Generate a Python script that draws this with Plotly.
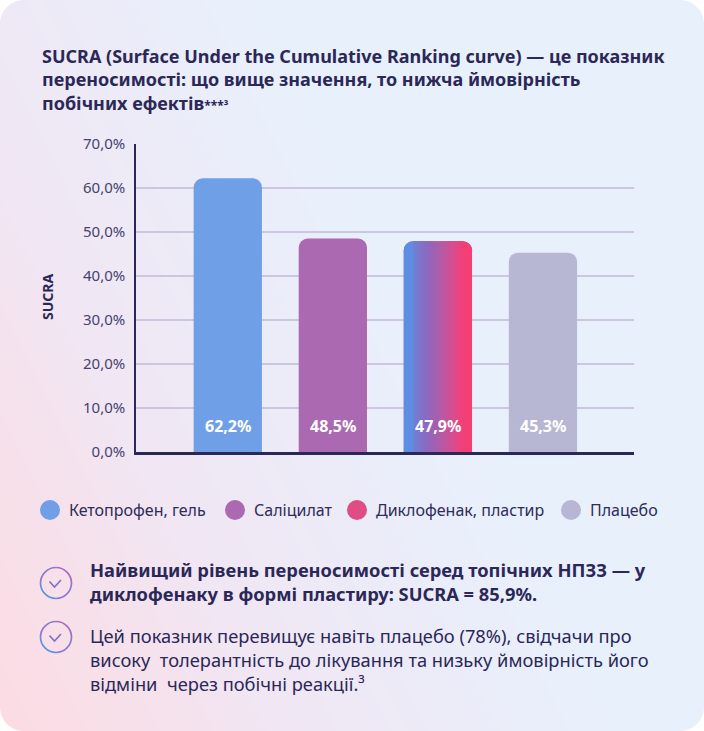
import plotly.graph_objects as go

# --- data ---
categories = ["Кетопрофен, гель", "Саліцилат", "Диклофенак, пластир", "Плацебо"]
values = [62.2, 48.5, 47.9, 45.3]
bar_colors = ["#6f9fe6", "#ab69b1", "#a062b3", "#b8b7d3"]
legend_colors = ["#6f9fe6", "#ab69b1", "#e04c84", "#b8b7d3"]
gradient_bar = 2  # index of the bar with the gradient fill

title_text = ("SUCRA (Surface Under the Cumulative Ranking curve) — це показник<br>"
              "переносимості: що вище значення, то нижча ймовірність<br>"
              "побічних ефектів<span style='font-size:12px'>***³</span>")
point1 = ("<b>Найвищий рівень переносимості серед топічних НПЗЗ — у<br>"
          "диклофенаку в формі пластиру: SUCRA = 85,9%.</b>")
point2 = ("Цей показник перевищує навіть плацебо (78%), свідчачи про<br>"
          "високу  толерантність до лікування та низьку ймовірність його<br>"
          "відміни  через побічні реакції.³")

W, H = 704, 731
FONT = "Noto Sans"
NAVY = "#2b2858"


def px(x):
    return x / W


def py(y):
    return 1 - y / H


def hex2rgb(h):
    h = h.lstrip("#")
    return [int(h[i:i + 2], 16) for i in (0, 2, 4)]


def mix(stops, t):
    t = max(0.0, min(1.0, t))
    for (t0, c0), (t1, c1) in zip(stops, stops[1:]):
        if t <= t1:
            a, b = hex2rgb(c0), hex2rgb(c1)
            f = (t - t0) / (t1 - t0) if t1 > t0 else 0
            return "rgb(%d,%d,%d)" % tuple(round(a[i] + (b[i] - a[i]) * f) for i in range(3))
    return "rgb(%d,%d,%d)" % tuple(hex2rgb(stops[-1][1]))


fig = go.Figure()

# main bars
fig.add_trace(go.Bar(
    x=categories, y=values, width=0.65,
    marker=dict(color=bar_colors, cornerradius=9, line=dict(width=0)),
    showlegend=False, hoverinfo="skip",
))

# gradient fill for the diclofenac bar, built from narrow overlaid bars
bar_stops = [(0, "#5a90e8"), (0.35, "#8e68bd"), (0.65, "#c9539a"), (0.85, "#f1417a"), (1, "#f43f72")]
half = 0.325
gx, gy = [categories[gradient_bar]], [values[gradient_bar]]
fig.add_trace(go.Bar(x=gx, y=gy, width=half, offset=-half,
                     marker=dict(color=mix(bar_stops, 0.03), cornerradius=9, line=dict(width=0)),
                     showlegend=False, hoverinfo="skip"))
fig.add_trace(go.Bar(x=gx, y=gy, width=half, offset=0,
                     marker=dict(color=mix(bar_stops, 0.97), cornerradius=9, line=dict(width=0)),
                     showlegend=False, hoverinfo="skip"))
inner0, inner1 = -half + 0.09, half - 0.09
n = 14
step = (inner1 - inner0) / n
for i in range(n):
    u = ((inner0 + (i + 0.5) * step) + half) / (2 * half)
    fig.add_trace(go.Bar(x=gx, y=gy, width=step * 1.15, offset=inner0 + i * step,
                         marker=dict(color=mix(bar_stops, u), line=dict(width=0)),
                         showlegend=False, hoverinfo="skip"))

shapes = []
# background: diagonal gradient bands, pink bottom-left to light blue
bg_stops = [(0, "#fddbe2"), (0.45, "#f1e6f3"), (1, "#e8f0fc")]
slope = 0.5 * H
cmax = W + slope
nb = 60
bw = cmax / nb
for k in range(nb):
    c0, c1 = k * bw - 1, (k + 1) * bw + 1
    col = mix(bg_stops, (k + 0.5) * bw / 620)
    path = "M %f,%f L %f,%f L %f,%f L %f,%f Z" % (
        px(c0), py(H), px(c1), py(H), px(c1 - slope), py(0), px(c0 - slope), py(0))
    shapes.append(dict(type="path", path=path, xref="paper", yref="paper",
                       fillcolor=col, line=dict(width=0), layer="below"))

# rounded card corners
r, kap = 24, 0.5523


def corner(cx, cy, sx, sy):
    p = [(cx + sx * r, cy), (cx + sx * r * (1 - kap), cy), (cx, cy + sy * r * (1 - kap)), (cx, cy + sy * r)]
    return "M %f,%f L %f,%f C %f,%f %f,%f %f,%f Z" % (
        px(cx), py(cy), px(p[0][0]), py(p[0][1]), px(p[1][0]), py(p[1][1]),
        px(p[2][0]), py(p[2][1]), px(p[3][0]), py(p[3][1]))


for cx, cy, sx, sy in [(0, 0, 1, 1), (W, 0, -1, 1), (0, H, 1, -1), (W, H, -1, -1)]:
    shapes.append(dict(type="path", path=corner(cx, cy, sx, sy), xref="paper", yref="paper",
                       fillcolor="white", line=dict(width=0), layer="below"))

annotations = []
# legend built from circles and labels
legend_x = [50, 235, 357, 571]
legend_y = 510
for name, col, lx in zip(categories, legend_colors, legend_x):
    shapes.append(dict(type="circle", xref="paper", yref="paper",
                       x0=px(lx - 10), x1=px(lx + 10), y0=py(legend_y + 10), y1=py(legend_y - 10),
                       fillcolor=col, line=dict(width=0)))
    annotations.append(dict(text=name, x=px(lx + 17), y=py(legend_y), xref="paper", yref="paper",
                            xanchor="left", yanchor="middle", showarrow=False,
                            font=dict(family=FONT, size=16, color="#2e2c5a")))

# value labels inside the bars
for cat, v in zip(categories, values):
    annotations.append(dict(text="<b>" + ("%.1f%%" % v).replace(".", ",") + "</b>",
                            x=cat, y=0, xref="x", yref="y", yanchor="bottom", yshift=13,
                            showarrow=False, font=dict(family=FONT, size=16, color="white")))

# title
annotations.append(dict(text="<b>" + title_text + "</b>", x=px(40), y=py(42), xref="paper", yref="paper",
                        xanchor="left", yanchor="top", align="left", showarrow=False,
                        font=dict(family=FONT, size=18, color=NAVY)))

# y axis title
annotations.append(dict(text="<b>SUCRA</b>", x=px(48), y=py(297), xref="paper", yref="paper",
                        xanchor="center", yanchor="middle",
                        textangle=-90, showarrow=False, font=dict(family=FONT, size=14, color=NAVY)))


# check icons: ring in four quarter arcs (blue to purple), plus the tick
def quarter(cx, cy, rr, a0, a1):
    # a0/a1 are unit vectors (pixel space, y down) of the arc ends
    (x0, y0), (x1, y1) = a0, a1
    p0 = (cx + rr * x0, cy + rr * y0)
    p3 = (cx + rr * x1, cy + rr * y1)
    p1 = (p0[0] + kap * rr * x1, p0[1] + kap * rr * y1)
    p2 = (p3[0] + kap * rr * x0, p3[1] + kap * rr * y0)
    return "M %f,%f C %f,%f %f,%f %f,%f" % (px(p0[0]), py(p0[1]), px(p1[0]), py(p1[1]),
                                            px(p2[0]), py(p2[1]), px(p3[0]), py(p3[1]))


ring_parts = [((0, -1), (1, 0), "#a66cc4"), ((-1, 0), (0, -1), "#8d79d4"),
              ((1, 0), (0, 1), "#8a7ad6"), ((0, 1), (-1, 0), "#5c90e8")]
for cy_, txt, ty in [(583, point1, 555), (637, point2, 621)]:
    for a0, a1, col in ring_parts:
        shapes.append(dict(type="path", xref="paper", yref="paper", path=quarter(56, cy_, 15.5, a0, a1),
                           line=dict(color=col, width=1.7)))
    shapes.append(dict(type="path", xref="paper", yref="paper",
                       path="M %f,%f L %f,%f L %f,%f" % (px(49.5), py(cy_ - 1.5), px(54.5), py(cy_ + 4),
                                                         px(61), py(cy_ - 3)),
                       line=dict(color="#7a72c6", width=1.6)))
    annotations.append(dict(text=txt, x=px(88), y=py(ty), xref="paper", yref="paper",
                            xanchor="left", yanchor="top", align="left", showarrow=False,
                            font=dict(family=FONT, size=18.3, color=NAVY)))

fig.update_layout(
    width=W, height=H,
    margin=dict(l=0, r=0, t=0, b=0),
    paper_bgcolor="white",
    plot_bgcolor="rgba(0,0,0,0)",
    barmode="overlay",
    separators=", ",
    showlegend=False,
    shapes=shapes,
    annotations=annotations,
    xaxis=dict(domain=[px(136), px(634)], type="category", range=[-0.874, 3.867],
               showticklabels=False, showgrid=False, zeroline=False,
               showline=True, linecolor=NAVY, linewidth=2.5, fixedrange=True, automargin=False),
    yaxis=dict(domain=[py(452), py(144)], range=[0, 70], dtick=10, tickformat=".1f", ticksuffix="%",
               showgrid=True, gridcolor="#cdc6e0", gridwidth=1.5, zeroline=False,
               showline=True, linecolor=NAVY, linewidth=1.5, ticks="", ticklabelstandoff=6,
               tickfont=dict(family=FONT, size=15, color="#45436e"), fixedrange=True, automargin=False),
)

# page body has a default 8px margin; drop it so the card fills the window
fig.write_html("out.html", config={"displayModeBar": False},
               post_script="document.body.style.margin='0';document.body.style.overflow='hidden';")
